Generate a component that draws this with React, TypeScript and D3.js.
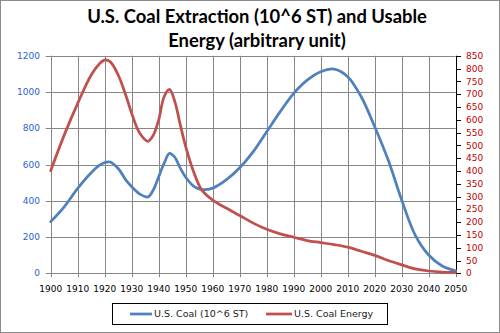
import React from "react";
import * as d3 from "d3";

const years = [1900,1905,1910,1915,1918,1920,1922,1925,1928,1930,1933,1936,1938,1940,1942,1944,1946,1948,1950,1953,1956,1960,1965,1970,1975,1980,1985,1990,1995,2000,2005,2010,2015,2020,2025,2030,2035,2040,2045,2050];
const coal = [285,367,469,555,595,611,614,578,511,478,437,421,460,533,607,662,640,580,530,480,462,470,515,582,671,781,892,993,1066,1112,1127,1085,974,809,625,404,211,101,40,14];
const energy = [401,540,664,775,818,834,827,775,690,625,547,516,540,600,690,719,670,580,495,395,325,286,255,226,196,172,154,141,128,120,112,102,86,70,50,33,17,9,5,4];
const xTicks = d3.range(1900, 2051, 10);
const leftTicks = [0,200,400,600,800,1000,1200];
const rightTicks = d3.range(0, 851, 50);
const titleLines = ["U.S. Coal Extraction (10^6 ST) and Usable", "Energy (arbitrary unit)"];
const seriesNames = ["U.S. Coal (10^6 ST)", "U.S. Coal Energy"];

const W = 500, H = 333;
const L = 50.7, R = 455.7, T = 55.8, B = 273.3;
const BLUE = "#4F81BD", RED = "#C0504D";
const FONT = "'DejaVu Sans', Verdana, sans-serif";

export default function App() {
  const x = d3.scaleLinear().domain([1900, 2050]).range([L, R]);
  const yL = d3.scaleLinear().domain([0, 1200]).range([B, T]);
  const yR = d3.scaleLinear().domain([0, 850]).range([B, T]);
  const lineL = d3.line<number>().x((_, i) => x(years[i])).y(d => yL(d)).curve(d3.curveCatmullRom.alpha(0.5));
  const lineR = d3.line<number>().x((_, i) => x(years[i])).y(d => yR(d)).curve(d3.curveCatmullRom.alpha(0.5));
  return (
    <svg width={W} height={H} style={{ position: "absolute", left: 0, top: 0, background: "#fff" }}>
      <rect x={0.5} y={0.5} width={W - 1} height={H - 1} fill="#fff" stroke="#8c8c8c" />
      {titleLines.map((t, i) => (
        <text key={i} x={257} y={23 + i * 24} textAnchor="middle" fontFamily="Lato, 'Open Sans', sans-serif" fontWeight="bold" fontSize={18.4} fill="#000">{t}</text>
      ))}
      {xTicks.map(t => (
        <line key={"vg" + t} x1={Math.round(x(t)) + 0.5} x2={Math.round(x(t)) + 0.5} y1={T} y2={B + 4} stroke="#868686" strokeWidth={1} />
      ))}
      {leftTicks.map(t => (
        <line key={"hg" + t} x1={L - 5} x2={R} y1={Math.round(yL(t)) + 0.5} y2={Math.round(yL(t)) + 0.5} stroke="#868686" strokeWidth={1} />
      ))}
      <line x1={Math.round(L) + 0.5} x2={Math.round(L) + 0.5} y1={T} y2={B} stroke="#868686" />
      <line x1={Math.round(R) + 0.5} x2={Math.round(R) + 0.5} y1={T} y2={B} stroke="#000" />
      {rightTicks.map(t => (
        <g key={"rt" + t}>
          <line x1={Math.round(R)} x2={Math.round(R) + 5} y1={Math.round(yR(t)) + 0.5} y2={Math.round(yR(t)) + 0.5} stroke="#000" />
          <text x={466} y={yR(t)} dy="0.35em" fontFamily={FONT} fontSize={9} fill="#C00000">{t}</text>
        </g>
      ))}
      {leftTicks.map(t => (
        <text key={"lt" + t} x={40} y={yL(t)} dy="0.35em" textAnchor="end" fontFamily={FONT} fontSize={9} fill="#2A5FD0">{t}</text>
      ))}
      {xTicks.map(t => (
        <text key={"xt" + t} x={x(t)} y={292} textAnchor="middle" fontFamily={FONT} fontSize={9} fill="#000">{t}</text>
      ))}
      <path d={lineL(coal) || ""} fill="none" stroke={BLUE} strokeWidth={2.75} strokeLinejoin="round" strokeLinecap="round" />
      <path d={lineR(energy) || ""} fill="none" stroke={RED} strokeWidth={2.75} strokeLinejoin="round" strokeLinecap="round" />
      <rect x={112.5} y={303.5} width={275} height={21} fill="#fff" stroke="#000" />
      <line x1={130} x2={152} y1={314} y2={314} stroke={BLUE} strokeWidth={2.75} />
      <text x={154} y={314} dy="0.35em" fontFamily={FONT} fontSize={9.5} fill="#222">{seriesNames[0]}</text>
      <line x1={266} x2={292} y1={314} y2={314} stroke={RED} strokeWidth={2.75} />
      <text x={294} y={314} dy="0.35em" fontFamily={FONT} fontSize={9.5} fill="#222">{seriesNames[1]}</text>
    </svg>
  );
}
